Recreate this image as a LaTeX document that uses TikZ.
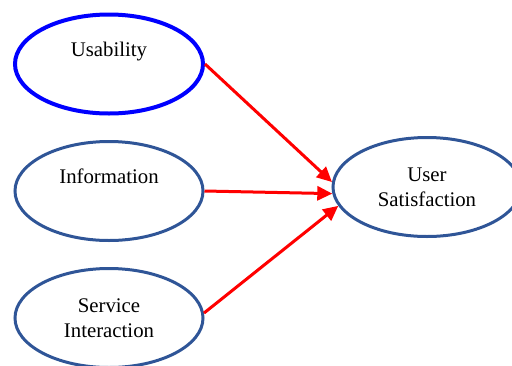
\documentclass[tikz,border=0pt]{standalone}
\usepackage{fontspec}
\setmainfont{Liberation Serif}
\usetikzlibrary{arrows.meta, shapes, positioning}
\definecolor{darkblue}{HTML}{2F5597}

\begin{document}
\begin{tikzpicture}[x=1pt,y=1pt,node distance=127pt,
        line width=3pt,
        main node/.style={ellipse,draw=darkblue,minimum width=188pt,minimum height=99pt,inner sep=0pt},
        txt/.style={font=\fontsize{20.8}{25}\selectfont,align=center,inner sep=0pt},
        link/.style={draw=red,-{Triangle[length=15pt,width=14pt]}}]
        \useasboundingbox (0,0) rectangle (512,-365);
        \node[main node,draw=blue,line width=4pt] (U) at (109,-64) {};
        \node[main node] (I) [below of=U] {};
        \node[main node] (S) [below of=I] {};
        \node[main node] (US) [right of=I,node distance=318pt,yshift=4pt] {};

        \node[txt] (Ut) at ([yshift=12pt]U.center) {Usability};
        \node[txt] (It) at ([yshift=14.5pt]I.center) {Information};
        \node[txt] (St) at ([yshift=0pt]S.center) {Service\\Interaction};
        \node[txt] (USt) at ([yshift=0pt]US.center) {User\\Satisfaction};

        \foreach \s/\t in {U.east/US.177, I.east/US.184, S.3/US.192} {
        \draw[link] (\s) -- (\t);}
        \end{tikzpicture}
\end{document}
